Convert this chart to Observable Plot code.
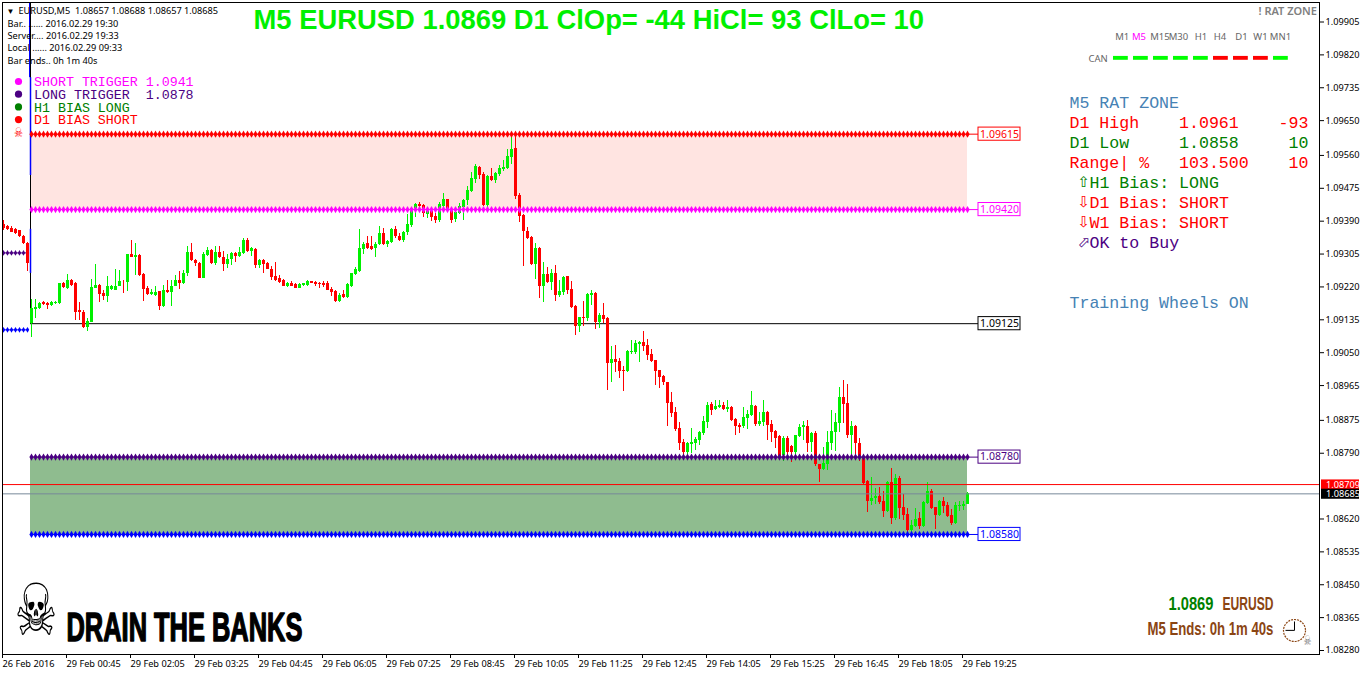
<!DOCTYPE html>
<html><head><meta charset="utf-8">
<script src="https://cdn.jsdelivr.net/npm/d3@7"></script>
<script src="https://cdn.jsdelivr.net/npm/@observablehq/plot@0.6"></script>
<style>html,body{margin:0;padding:0;background:#fff}svg text{white-space:pre}</style>
</head><body><div id="chart"></div>
<script>
// Candle values in points above 1.08000 (1 point = 0.00001)
const opens = [1382,1377,1371,1368,1365,1351,1332,1125,1162,1164,
1179,1178,1172,1177,1178,1229,1216,1237,1229,1158,
1155,1116,1129,1217,1224,1204,1194,1214,1212,1222,
1234,1232,1304,1297,1302,1253,1216,1201,1198,1207,
1170,1211,1206,1222,1237,1229,1254,1309,1289,1281,
1242,1300,1315,1281,1309,1297,1278,1291,1307,1299,
1307,1340,1312,1318,1276,1289,1281,1266,1247,1242,
1237,1222,1230,1227,1216,1224,1224,1234,1232,1229,
1230,1229,1214,1209,1183,1200,1192,1221,1252,1260,
1316,1332,1324,1319,1329,1358,1329,1335,1368,1350,
1340,1360,1379,1422,1433,1430,1407,1415,1402,1391,
1428,1446,1420,1394,1410,1425,1443,1466,1497,1528,
1510,1430,1505,1495,1510,1523,1526,1554,1578,1456,
1404,1363,1347,1278,1319,1221,1252,1231,1254,1198,
1205,1247,1213,1169,1117,1141,1138,1198,1203,1128,
1146,1138,1022,1032,1027,1004,1001,1050,1050,1071,
1076,1068,1045,1030,1004,988,973,921,895,854,
818,792,812,815,823,841,869,916,903,908,
913,903,908,877,862,859,880,887,911,864,
869,895,864,846,833,784,828,807,792,833,
856,859,818,841,761,748,761,815,843,867,
934,918,836,859,815,781,717,665,673,678,
665,639,714,621,725,650,631,590,600,621,
600,660,691,650,629,665,655,629,608,652,652,657];
const closes = [1371,1368,1362,1358,1351,1332,1280,1164,1167,1178,
1175,1173,1180,1181,1229,1219,1237,1224,1155,1155,
1114,1131,1219,1224,1201,1194,1222,1222,1222,1234,
1233,1304,1297,1302,1250,1214,1201,1206,1206,1170,
1211,1206,1222,1237,1229,1254,1309,1289,1280,1242,
1304,1315,1281,1309,1295,1278,1291,1307,1299,1309,
1340,1312,1320,1276,1289,1278,1265,1245,1237,1232,
1222,1229,1222,1216,1227,1228,1234,1229,1227,1227,
1224,1211,1206,1183,1198,1192,1226,1254,1265,1319,
1329,1319,1316,1329,1358,1329,1337,1368,1350,1340,
1360,1381,1422,1433,1428,1410,1415,1399,1391,1433,
1446,1420,1391,1412,1428,1443,1469,1500,1531,1508,
1430,1505,1495,1513,1526,1528,1557,1575,1454,1402,
1363,1345,1278,1319,1221,1252,1231,1254,1198,1208,
1244,1210,1167,1117,1141,1138,1200,1203,1128,1146,
1136,1022,1032,1024,1001,1001,1053,1053,1074,1076,
1066,1043,1027,1001,986,973,918,893,851,815,
792,815,818,825,843,872,913,900,911,913,
903,908,874,859,856,882,890,913,864,872,
895,862,843,828,779,828,792,792,836,856,
862,815,841,761,748,763,818,846,869,934,
916,836,859,815,781,712,665,673,678,662,
639,714,621,725,647,629,590,603,618,600,
662,691,647,629,665,652,626,608,655,655,657,685];
const highs = [1392,1379,1375,1371,1366,1353,1334,1188,1188,1181,
1183,1179,1183,1183,1229,1232,1253,1239,1231,1181,
1158,1138,1240,1278,1226,1211,1246,1224,1266,1263,
1237,1304,1340,1333,1303,1254,1222,1213,1222,1209,
1224,1237,1237,1250,1260,1263,1325,1333,1290,1284,
1310,1322,1316,1325,1325,1312,1304,1309,1309,1322,
1346,1346,1322,1320,1290,1290,1284,1272,1284,1250,
1239,1232,1234,1228,1228,1229,1237,1235,1234,1231,
1234,1233,1218,1210,1203,1210,1228,1256,1270,1368,
1335,1350,1350,1335,1376,1371,1339,1371,1376,1357,
1363,1407,1425,1435,1438,1433,1422,1417,1410,1438,
1461,1447,1422,1414,1435,1446,1479,1516,1536,1531,
1516,1507,1526,1515,1534,1547,1575,1609,1614,1461,
1407,1373,1350,1332,1321,1283,1270,1265,1275,1236,
1247,1248,1234,1172,1142,1182,1202,1210,1205,1151,
1177,1140,1066,1068,1035,1014,1055,1081,1081,1079,
1105,1084,1058,1031,1005,991,974,947,908,869,
825,818,854,830,845,885,921,921,926,926,
921,926,911,880,867,908,900,949,913,895,
926,898,874,849,835,833,833,809,837,864,
872,874,843,846,762,805,846,900,893,960,
978,968,872,861,828,783,719,727,699,701,
691,717,750,735,730,683,647,616,647,637,
665,714,696,651,667,675,662,644,662,665,665,688];
const lows = [1366,1366,1360,1356,1349,1329,1261,1088,1138,1162,
1172,1162,1170,1175,1175,1216,1213,1222,1132,1132,
1112,1106,1127,1215,1181,1184,1181,1211,1210,1220,
1204,1207,1295,1250,1248,1183,1198,1198,1196,1159,
1167,1204,1170,1220,1214,1227,1247,1287,1272,1241,
1241,1298,1279,1276,1293,1260,1267,1276,1284,1297,
1305,1310,1299,1267,1267,1254,1264,1237,1233,1230,
1220,1219,1220,1215,1215,1222,1222,1228,1222,1216,
1219,1210,1196,1181,1180,1191,1191,1218,1249,1258,
1304,1316,1315,1296,1328,1328,1322,1333,1345,1337,
1335,1353,1373,1399,1417,1399,1397,1389,1384,1386,
1422,1412,1384,1386,1408,1391,1430,1464,1487,1497,
1428,1425,1492,1487,1505,1518,1524,1536,1446,1386,
1273,1342,1276,1239,1190,1179,1229,1210,1182,1192,
1198,1200,1164,1094,1102,1117,1130,1172,1110,1112,
1125,952,973,998,983,949,999,1045,1045,1024,
1053,1030,1024,965,957,965,859,882,846,797,
784,788,789,797,810,836,854,887,900,905,
900,895,873,836,841,854,851,886,859,859,
859,823,818,802,776,768,779,766,788,830,
823,792,792,756,714,746,745,797,794,843,
867,828,787,787,768,710,637,655,657,657,
624,637,606,616,618,616,585,585,599,593,
599,658,644,593,626,634,625,603,606,639,642,657];

const yTickValues = [1.09905,1.0982,1.09735,1.0965,1.0956,1.09475,1.0939,1.09305,1.0922,1.09135,1.0905,1.08965,1.08875,1.0879,1.0862,1.08535,1.0845,1.08365,1.0828];
const xTickLabels = ["26 Feb 2016","29 Feb 00:45","29 Feb 02:05","29 Feb 03:25","29 Feb 04:45","29 Feb 06:05","29 Feb 07:25","29 Feb 08:45","29 Feb 10:05","29 Feb 11:25","29 Feb 12:45","29 Feb 14:05","29 Feb 15:25","29 Feb 16:45","29 Feb 18:05","29 Feb 19:25"];
const levelValues = [1.09615,1.0942,1.09125,1.0878,1.0858];
const levelColors = ["#ff0000","#ff00ff","#000000","#4b0082","#0000ff"];
const bid = 1.08685, ask = 1.08709;
const priorPurple = 1.09308, priorBlue = 1.09109;
const legendTexts = ["SHORT TRIGGER 1.0941","LONG TRIGGER  1.0878","H1 BIAS LONG","D1 BIAS SHORT"];
const legendColors = ["#ff00ff","#4b0082","#008000","#ff0000"];
const timeframes = ["M1","M5","M15","M30","H1","H4","D1","W1","MN1"];
const canSignals = [1,1,1,1,1,-1,-1,-1,1];
const panelLines = ["M5 RAT ZONE","D1 High    1.0961    -93","D1 Low     1.0858     10","Range| %   103.500    10"];
const panelColors = ["#4682b4","#ff0000","#008000","#ff0000"];
const biasLines = ["H1 Bias: LONG","D1 Bias: SHORT","W1 Bias: SHORT","OK to Buy"];
const biasArrows = ["\u21E7","\u21E9","\u21E9","\u2B00"];
const biasColors = ["#008000","#ff0000","#ff0000","#4b0082"];
const infoLines = ["Bar.. ...... 2016.02.29 19:30","Server.... 2016.02.29 19:33","Local ...... 2016.02.29 09:33","Bar ends.. 0h 1m 40s"];
const title = "M5 EURUSD 1.0869 D1 ClOp= -44 HiCl= 93 ClLo= 10";

const p = v => 1.08 + v / 1e5;
const bars = opens.map((o, i) => ({i, o: p(o), h: p(highs[i]), l: p(lows[i]), c: p(closes[i])}));
const midnightBar = 7, lastBar = bars.length - 1;
const sessionBars = bars.filter(d => d.i >= midnightBar).map(d => d.i);
const priorBars = bars.filter(d => d.i < midnightBar).map(d => d.i);
const candleColor = d => d.c >= d.o ? "#00f000" : "#ff0000";

const ui = '"Noto Sans",sans-serif', mono = '"Liberation Mono",monospace', heavy = '"Liberation Sans",sans-serif';
const M = {l: 2, t: 2};
// Flag a text to be squeezed to a set width, to stand in for a condensed display face
const squeeze = w => (index, scales, values, dims, context, next) => {
  const g = next(index, scales, values, dims, context);
  g.querySelectorAll("text").forEach(t => t.setAttribute("data-fit", w));
  return g;
};
// A fixed-position annotation, placed relative to the frame
const label = (text, px, py, {fit, ...o} = {}) => Plot.text([text], {frameAnchor: "top-left", dx: px - M.l, dy: py - M.t, lineAnchor: "middle", textAnchor: "start", fontFamily: ui, fontSize: 9.2, fill: "#000", ...(fit ? {render: squeeze(fit)} : {}), ...o});

const zoneRows = (level, color) => [
  Plot.ruleY([level], {x1: midnightBar - .25, x2: 243.75, stroke: color, strokeWidth: 1}),
  Plot.dot(sessionBars, {x: d => d, y: () => level, r: 2.2, fill: color, symbol: "diamond"})
];

const chart = Plot.plot({
  width: 1362, height: 675,
  marginLeft: M.l, marginTop: M.t, marginRight: 43, marginBottom: 21,
  style: {background: "#fff", overflow: "visible"},
  x: {type: "linear", domain: [0, lastBar], range: [3, 967], axis: null},
  y: {domain: [1.0828, 1.09905], range: [650, 21.5], axis: null},
  marks: [
    // zones
    Plot.rect([0], {x1: midnightBar - .25, x2: lastBar, y1: () => levelValues[1], y2: () => levelValues[0], fill: "#ffe4e1"}),
    Plot.rect([0], {x1: midnightBar - .25, x2: lastBar, y1: () => levelValues[4], y2: () => levelValues[3], fill: "#8fbc8f"}),
    Plot.ruleY([levelValues[2]], {x1: midnightBar - .25, x2: 243.75, stroke: "#000"}),
    Plot.ruleX([midnightBar - .25], {y1: 1.09125, y2: 1.09953, stroke: "#000"}),
    Plot.ruleX([midnightBar - .5], {y1: 1.09761, y2: 1.09953, stroke: "#0000ff"}),
    Plot.ruleX([midnightBar - .25], {y1: 1.09508, y2: 1.09761, stroke: "#0000ff", strokeWidth: 1.5}),
    Plot.ruleX([midnightBar - .25], {y1: 1.09255, y2: 1.09369, stroke: "#0000ff", strokeWidth: 1.5}),
    // pre-session levels
    Plot.dot(priorBars, {x: d => d, y: () => priorPurple, r: 1.8, fill: "#4b0082", symbol: "diamond"}),
    Plot.ruleY([priorPurple], {x1: 0, x2: midnightBar - 1, stroke: "#4b0082"}),
    Plot.dot(priorBars, {x: d => d, y: () => priorBlue, r: 1.8, fill: "#0000ff", symbol: "diamond"}),
    Plot.ruleY([priorBlue], {x1: 0, x2: midnightBar - 1, stroke: "#0000ff"}),
    // candles
    Plot.ruleX(bars, {x: "i", y1: "l", y2: "h", stroke: candleColor, strokeWidth: 1, shapeRendering: "crispEdges"}),
    Plot.ruleX(bars, {x: "i", y1: d => Math.min(d.o, d.c), y2: d => Math.max(d.o, d.c), stroke: candleColor, strokeWidth: 3, shapeRendering: "crispEdges"}),
    // level rows
    ...zoneRows(levelValues[0], levelColors[0]),
    ...zoneRows(levelValues[1], levelColors[1]),
    ...zoneRows(levelValues[3], levelColors[3]),
    ...zoneRows(levelValues[4], levelColors[4]),
    // level tags
    Plot.rect(levelValues, {x1: () => 243.75, x2: () => 254.25, y1: d => d - .00017, y2: d => d + .00017, fill: "#fff", stroke: (d, i) => levelColors[i], strokeWidth: 1}),
    Plot.text(levelValues, {x: () => 249, y: d => d, text: d => d.toFixed(5), fill: (d, i) => levelColors[i], fontFamily: ui, fontSize: 10.5}),
    // bid / ask
    Plot.ruleY([ask], {stroke: "#ff0000"}),
    Plot.ruleY([bid], {stroke: "#778899"}),
    Plot.frame({stroke: "#000"}),
    // axes
    Plot.axisY(yTickValues, {anchor: "right", tickSize: 4, tickPadding: 2, tickFormat: d3.format(".5f"), fontFamily: ui, fontSize: 9.2, color: "#000", label: null}),
    Plot.axisX(xTickLabels.map((_, k) => k * 16), {anchor: "bottom", tickSize: 4, tickPadding: 2, tickFormat: d => xTickLabels[d / 16], textAnchor: "start", dx: -1, fontFamily: ui, fontSize: 9.2, color: "#000", label: null}),
    // price tags on the axis
    Plot.rect([0], {x1: () => 329.5, x2: () => 339, y1: () => ask - .00013, y2: () => ask + .00012, fill: "#ff0000"}),
    Plot.rect([0], {x1: () => 329.5, x2: () => 339, y1: () => bid - .00014, y2: () => bid + .00012, fill: "#000"}),
    label(ask.toFixed(5), 1325.5, 484.2, {fill: "#fff"}),
    label(bid.toFixed(5), 1325.5, 493.6, {fill: "#fff"}),
    // title
    label(title, 253, 20, {fontFamily: heavy, fontWeight: "bold", fontSize: 27.4, fill: "#00f000"}),
    // top-left info
    label("\u25BC", 6, 11, {fontSize: 8}),
    label("EURUSD,M5  1.08657 1.08688 1.08657 1.08685", 18, 11),
    ...infoLines.map((t, k) => label(t, 7, 23.5 + 12.2 * k)),
    // legend
    ...legendTexts.flatMap((t, k) => [
      Plot.dot([0], {frameAnchor: "top-left", dx: 18 - M.l, dy: 81 + 12.7 * k - M.t, r: 3.6, fill: legendColors[k]}),
      label(t, 33.5, 81 + 12.9 * k, {fontFamily: mono, fontSize: 13.3, fill: legendColors[k]})
    ]),
    label("\u2620", 13.5, 132.5, {fontFamily: '"DejaVu Sans"', fontSize: 13, fill: "#ff0000", fit: 9}),
    // right panel
    label("! RAT ZONE", 1258, 11, {fontSize: 11, fill: "#808080", fontWeight: 600}),
    ...timeframes.map((t, k) => label(t, [1121.7, 1138.5, 1159.5, 1178, 1200.5, 1219.5, 1241, 1260, 1280][k], 36.5, {textAnchor: "middle", fontSize: 9.5, fill: t === "M5" ? "#ff00ff" : "#666"})),
    label("CAN", 1088, 58.5, {fontSize: 9.5, fill: "#666"}),
    Plot.rect(canSignals, {x1: (d, k) => 277.5 + 5 * k, x2: (d, k) => 281.2 + 5 * k, y1: () => 1.09806, y2: () => 1.09816, fill: d => d > 0 ? "#00ff00" : "#ff0000"}),
    ...panelLines.map((t, k) => label(t, 1069, 102.5 + 20 * k, {fontFamily: mono, fontSize: 16.6, fill: panelColors[k]})),
    ...biasLines.flatMap((t, k) => [
      label(biasArrows[k], 1077, 182 + 20 * k, {fontFamily: '"DejaVu Sans"', fontSize: 15, fill: biasColors[k]}),
      label(t, 1089, 182.5 + 20 * k, {fontFamily: mono, fontSize: 16.6, fill: biasColors[k]})
    ]),
    label("Training Wheels ON", 1069, 302.5, {fontFamily: mono, fontSize: 16.6, fill: "#4682b4"}),
    // logo
    label("\u2620", 14, 611.5, {fontFamily: '"DejaVu Sans"', fontSize: 72, fill: "#000", fit: 43}),
    label("DRAIN THE BANKS", 66, 628, {fontFamily: heavy, fontWeight: "bold", fontSize: 40, fill: "#000", stroke: "#000", strokeWidth: 1.5, fit: 236}),
    // bottom right
    label("1.0869", 1168, 603.5, {fontFamily: heavy, fontWeight: "bold", fontSize: 18, fill: "#008000", fit: 45}),
    label("EURUSD", 1222, 603.5, {fontFamily: heavy, fontWeight: "bold", fontSize: 18, fill: "#8b4513", fit: 51}),
    label("M5 Ends: 0h 1m 40s", 1147, 628, {fontFamily: heavy, fontWeight: "bold", fontSize: 19, fill: "#8b4513", fit: 126}),
    Plot.dot([0], {frameAnchor: "top-left", dx: 1294 - M.l, dy: 630 - M.t, r: 11, stroke: "#8b4513", strokeWidth: 1.2, strokeDasharray: "2 1", fill: "#fff"}),
    Plot.link([0], {x1: () => 322.75, y1: () => 1.08332, x2: () => 322.75, y2: () => 1.08355, stroke: "#000"}),
    Plot.link([0], {x1: () => 322.75, y1: () => 1.08332, x2: () => 320.5, y2: () => 1.08332, stroke: "#000"}),
    label("\u2620", 1303, 640, {fontFamily: '"DejaVu Sans"', fontSize: 13, fill: "#777", fit: 8})
  ]
});
document.getElementById("chart").appendChild(chart);
// Horizontal squeeze needs the text in the page to measure it
chart.querySelectorAll("text[data-fit]").forEach(t => {
  const k = +t.getAttribute("data-fit") / t.getComputedTextLength();
  t.setAttribute("transform", `${t.getAttribute("transform") || ""} scale(${k},1)`);
});
</script></body></html>
